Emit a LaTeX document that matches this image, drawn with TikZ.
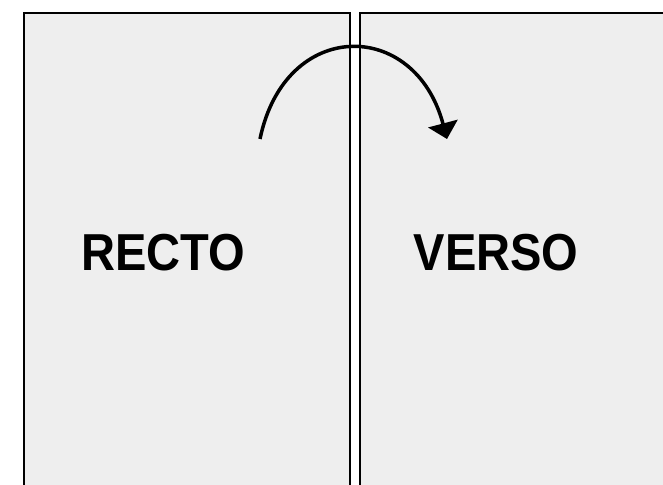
\documentclass[tikz,border=0pt]{standalone}
\usepackage{fontspec}
\setmainfont{Liberation Sans}
\usetikzlibrary{arrows.meta}
\definecolor{pagefill}{HTML}{EEEEEE}
\begin{document}
\begin{tikzpicture}[x=1pt,y=-1pt,
  pagebox/.style={draw=black,line width=1.5pt,fill=pagefill},
  pagelabel/.style={font=\fontsize{52}{60}\selectfont\bfseries,anchor=base,inner sep=0pt,xscale=0.905},
  turnarrow/.style={line width=3.5pt,-{Triangle[width=30pt,length=16pt]}}]
\useasboundingbox (0,0) rectangle (663,484);
\begin{scope}
\clip (0,0) rectangle (663,484);
\fill[white] (0,0) rectangle (663,484);
\draw[pagebox] (24,13) rectangle (350,500);
\draw[pagebox] (360,13) rectangle (680,500);
\end{scope}
\node[pagelabel] (recto) at (163,270) {RECTO};
\node[pagelabel] (verso) at (496,270) {VERSO};
\coordinate (start) at (260,139);
\coordinate (tip) at (447,139);
\draw[turnarrow] (start) .. controls (285,18) and (415,18) .. (tip);
\end{tikzpicture}
\end{document}
